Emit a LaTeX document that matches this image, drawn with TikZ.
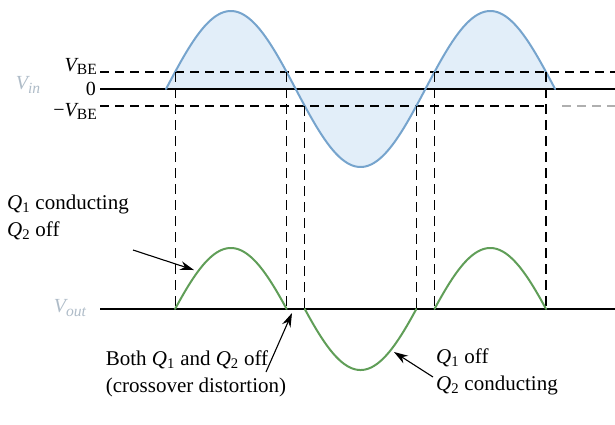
\documentclass[tikz,border=0pt]{standalone}
\usepackage{fontspec}
\usepackage{graphicx}
\setmainfont{Liberation Serif}
\usetikzlibrary{arrows.meta}
\definecolor{vinline}{RGB}{118,164,205}
\definecolor{vinfill}{RGB}{226,238,249}
\definecolor{voutline}{RGB}{96,158,88}
\definecolor{axislabel}{RGB}{175,188,200}
\definecolor{lightdash}{RGB}{175,175,175}
\tikzset{
  axisline/.style={line width=1.2pt, black},
  dashline/.style={line width=1.3pt, black, dash pattern=on 9pt off 6pt},
  vdash/.style={line width=1.2pt, black, dash pattern=on 10pt off 6pt},
  wave/.style={line width=2pt, line join=round, line cap=round},
  lbl/.style={inner sep=0pt, font=\fontsize{20}{24}\selectfont},
  note/.style={inner sep=0pt, align=left, font=\fontsize{21}{27}\selectfont},
  pointer/.style={line width=1.1pt, -{Stealth[length=14pt,width=9pt]}},
}
\newcommand{\Qn}[1]{{\itshape Q}\textsubscript{#1}}
\newcommand{\lsub}[1]{\raisebox{-0.35ex}{\scalebox{0.78}{#1}}}
\begin{document}
\begin{tikzpicture}[x=1pt,y=-1pt]
\useasboundingbox (0,0) rectangle (615,424);
% input wave fill and curve
\fill[vinfill] plot[domain=166:555.1,samples=240] (\x,{89-78*sin((\x-166)*1.38782)}) -- cycle;
% horizontal reference lines
\coordinate (vbeL) at (100,72);  \coordinate (vbeR) at (615,72);
\coordinate (zL) at (100,89);    \coordinate (zR) at (615,89);
\coordinate (nbeL) at (100,106); \coordinate (nbeM) at (548,106);
\coordinate (nbeG) at (562,106); \coordinate (nbeR) at (615,106);
\draw[dashline] (vbeL) -- (vbeR);
\draw[axisline] (zL) -- (zR);
\draw[dashline] (nbeL) -- (nbeM);
\draw[line width=1.3pt, lightdash, dash pattern=on 9pt off 6pt] (nbeG) -- (nbeR);
\draw[wave, vinline] plot[domain=166:555.1,samples=240] (\x,{89-78*sin((\x-166)*1.38782)});
% output axis
\coordinate (oL) at (100,309); \coordinate (oR) at (615,309);
\draw[axisline] (oL) -- (oR);
% vertical dashed lines
\foreach \n/\xx/\yy in {a/175.1/72, b/286.6/72, c/304.8/106, d/416.3/106, e/434.5/72, f/546.0/72}{
  \coordinate (t\n) at (\xx,\yy);
  \coordinate (b\n) at (\xx,309);
  \draw[vdash] (t\n) -- (b\n);
}
% output wave
\draw[wave, voutline] plot[domain=175.1:286.6,samples=100] (\x,{309-(78*sin((\x-166)*1.38782)-17)});
\draw[wave, voutline] plot[domain=304.8:416.3,samples=100] (\x,{309-(78*sin((\x-166)*1.38782)+17)});
\draw[wave, voutline] plot[domain=434.5:546.0,samples=100] (\x,{309-(78*sin((\x-166)*1.38782)-17)});
% labels
\node[lbl, text=axislabel] (vin) at (28,85) {{\itshape V}\lsub{\itshape in}};
\node[lbl, text=axislabel] (vout) at (70,308) {{\itshape V}\lsub{\itshape out}};
\node[lbl, anchor=base east] (lvbe) at (97,71) {{\itshape V}\lsub{BE}};
\node[lbl, anchor=base east] (lzero) at (96,95) {0};
\node[lbl, anchor=base east] (lnbe) at (97,116) {−{\itshape V}\lsub{BE}};
% annotations
\node[note, anchor=base west] (n1) at (7,236) {\Qn{1} conducting\\\Qn{2} off};
\node[note, anchor=base] (n2) at (196,392) {Both \Qn{1} and \Qn{2} off\\(crossover distortion)};
\node[note, anchor=base west] (n3) at (436,390) {\Qn{1} off\\\Qn{2} conducting};
\coordinate (p1s) at (133,250); \coordinate (p1e) at (194,270);
\coordinate (p2s) at (266,372); \coordinate (p2e) at (292,313);
\coordinate (p3s) at (433,377); \coordinate (p3e) at (394,352);
\draw[pointer] (p1s) -- (p1e);
\draw[pointer] (p2s) -- (p2e);
\draw[pointer] (p3s) -- (p3e);
\end{tikzpicture}
\end{document}
